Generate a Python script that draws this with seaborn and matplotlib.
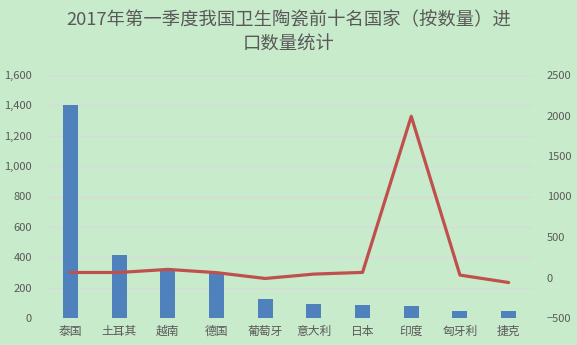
import matplotlib
matplotlib.use("Agg")
import matplotlib.pyplot as plt
import seaborn as sns
import numpy as np
import pandas as pd
from matplotlib.ticker import FuncFormatter

categories = ["泰国", "土耳其", "越南", "德国", "葡萄牙", "意大利", "日本", "印度", "匈牙利", "捷克"]
quantity = [1400, 415, 322, 298, 125, 92, 86, 79, 46, 46]
line_values = [62, 62, 100, 60, -12, 42, 63, 1990, 30, -62]
title_text = "2017年第一季度我国卫生陶瓷前十名国家（按数量）进\n口数量统计"

bg = "#C8EBCB"
bar_color = "#4F81BD"
line_color = "#C0504D"
text_color = "#595959"
grid_color = "#D9D9D9"

sns.set_theme(style="white")
plt.rcParams["font.family"] = ["Noto Sans CJK SC", "DejaVu Sans"]

df = pd.DataFrame({"country": categories, "qty": quantity, "val": line_values})
df["pos"] = np.arange(len(categories))

fig = plt.figure(figsize=(5.77, 3.45), dpi=100, facecolor=bg)
ax = fig.add_axes([46 / 577, 1 - 318 / 345, (533 - 46) / 577, (318 - 75) / 345])
ax.set_facecolor(bg)

sns.barplot(data=df, x="country", y="qty", color=bar_color, width=0.31,
            saturation=1, linewidth=0, edgecolor="none", ax=ax, zorder=2)
ax.set_xlim(-0.5, len(categories) - 0.5)
ax.set_ylim(0, 1600)
ax.set_yticks(np.arange(0, 1601, 200))
ax.yaxis.set_major_formatter(FuncFormatter(lambda v, p: f"{int(v):,}"))
ax.grid(axis="y", color=grid_color, linewidth=1, zorder=0)
ax.set_axisbelow(True)
ax.set_xlabel("")
ax.set_ylabel("")
for s in ax.spines.values():
    s.set_visible(False)
ax.tick_params(axis="y", length=0, pad=10, labelsize=8, labelcolor=text_color)
ax.tick_params(axis="x", length=0, pad=5, labelsize=8.5, labelcolor=text_color)

ax2 = ax.twinx()
sns.lineplot(data=df, x="pos", y="val", color=line_color, linewidth=2.3, ax=ax2,
             zorder=3)
ax2.set_ylim(-500, 2500)
ax2.set_yticks(np.arange(-500, 2501, 500))
ax2.set_xlim(-0.5, len(categories) - 0.5)
ax2.set_ylabel("")
ax2.set_xlabel("")
ax2.grid(False)
for s in ax2.spines.values():
    s.set_visible(False)
ax2.tick_params(axis="y", length=0, pad=10, labelsize=8, labelcolor=text_color)

fig.text(0.5, 1 - 11 / 345, title_text, ha="center", va="top", fontsize=13.2,
         color=text_color, linespacing=1.5)

fig.savefig("out.png", dpi=100, facecolor=bg)
